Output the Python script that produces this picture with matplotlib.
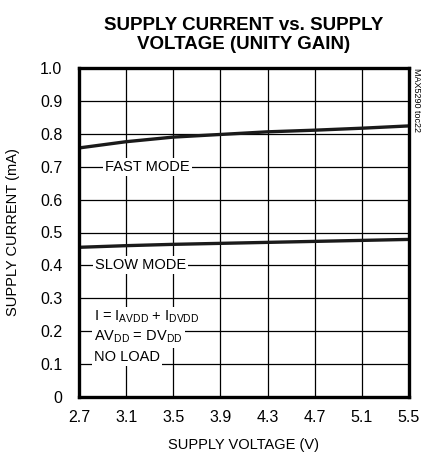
import numpy as np
import matplotlib.pyplot as plt

# data
voltage = [2.7, 3.1, 3.5, 3.9, 4.3, 4.7, 5.1, 5.5]
fast_mode = [0.757, 0.776, 0.790, 0.798, 0.806, 0.811, 0.817, 0.824]
slow_mode = [0.455, 0.460, 0.464, 0.467, 0.470, 0.473, 0.476, 0.479]
x_ticks = [2.7, 3.1, 3.5, 3.9, 4.3, 4.7, 5.1, 5.5]
y_ticks = [0, 0.1, 0.2, 0.3, 0.4, 0.5, 0.6, 0.7, 0.8, 0.9, 1.0]
y_tick_labels = ["0", "0.1", "0.2", "0.3", "0.4", "0.5", "0.6", "0.7", "0.8", "0.9", "1.0"]

plt.rcParams['font.family'] = ['Liberation Sans', 'DejaVu Sans']

fig = plt.figure(figsize=(4.22, 4.58), dpi=100)
ax = fig.add_axes([79/422, 61/458, 330/422, 329/458])

ax.plot(voltage, fast_mode, color="#1a1a1a", lw=2.4, zorder=3, solid_capstyle="butt")
ax.plot(voltage, slow_mode, color="#1a1a1a", lw=2.4, zorder=3, solid_capstyle="butt")

ax.set_xlim(2.7, 5.5)
ax.set_ylim(0, 1.0)
ax.set_xticks(x_ticks)
ax.set_xticklabels([f"{v:.1f}" for v in x_ticks])
ax.set_yticks(y_ticks)
ax.set_yticklabels(y_tick_labels)
ax.tick_params(axis="y", length=0, labelsize=11.5, pad=12)
ax.tick_params(axis="x", length=0, labelsize=11.5, pad=9)
ax.grid(True, color="black", lw=0.9, zorder=1)
for sp in ax.spines.values():
    sp.set_linewidth(2.4)
    sp.set_zorder(4)

ax.set_xlabel("SUPPLY VOLTAGE (V)", fontsize=10.5)
ax.set_ylabel("SUPPLY CURRENT (mA)", fontsize=10.5)
ax.xaxis.set_label_coords(0.5, -0.125)
ax.yaxis.set_label_coords(-0.178, 0.5)

box = dict(facecolor="white", edgecolor="none", pad=1.5)
ax.text(3.28, 0.7, "FAST MODE", fontsize=10.5, ha="center", va="center", bbox=box, zorder=2)
ax.text(3.22, 0.4, "SLOW MODE", fontsize=10.5, ha="center", va="center", bbox=box, zorder=2)
ax.text(2.83, 0.243, r"I = I$_{\mathregular{AVDD}}$ + I$_{\mathregular{DVDD}}$", fontsize=10.5,
        ha="left", va="center", bbox=box, zorder=2)
ax.text(2.83, 0.182, r"AV$_{\mathregular{DD}}$ = DV$_{\mathregular{DD}}$", fontsize=10.5,
        ha="left", va="center", bbox=box, zorder=2)
ax.text(2.83, 0.122, "NO LOAD", fontsize=10.5, ha="left", va="center", bbox=box, zorder=2)

fig.text(417/422, 1 - 68/458, "MAX5290 toc22", fontsize=6.5, rotation=270,
         ha="center", va="top")
fig.text(244/422, 1 - 35/458, "SUPPLY CURRENT vs. SUPPLY\nVOLTAGE (UNITY GAIN)",
         fontsize=13.5, fontweight="bold", ha="center", va="center", linespacing=1.15)

plt.savefig("out.png", dpi=100)
plt.close()
